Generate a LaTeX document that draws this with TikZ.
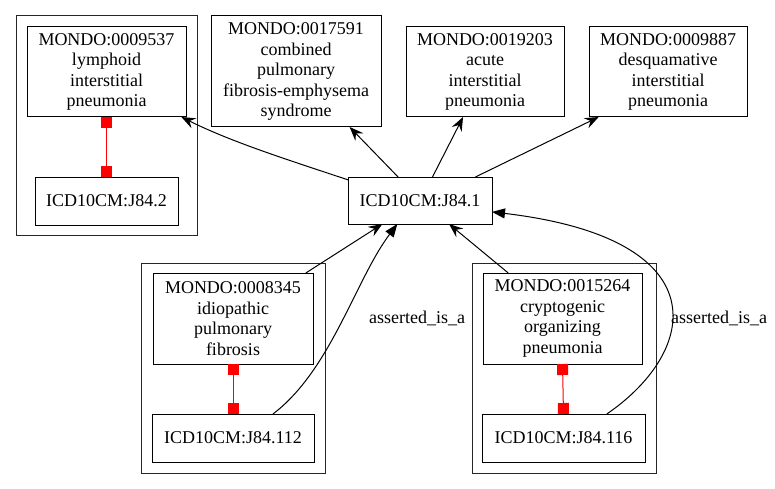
\documentclass[tikz,border=0pt]{standalone}
\usepackage{fontspec}
\setmainfont{Liberation Serif}
\usetikzlibrary{arrows.meta}
\begin{document}
\begin{tikzpicture}[x=1pt,y=-1pt,
  box/.style={draw=black, line width=1pt, inner sep=0pt, outer sep=0pt, align=center,
    font=\fontsize{18}{20.5}\selectfont, anchor=center},
  cluster/.style={draw=black!85, line width=1pt, inner sep=0pt, outer sep=0pt, anchor=center},
  lbl/.style={font=\fontsize{18}{20.5}\selectfont, inner sep=0pt, anchor=center},
  isa/.style={draw=black, line width=1pt, -{Stealth[length=14pt,width=11pt,inset=5pt]}},
  asserted/.style={draw=black, line width=1pt, -{Triangle[length=13pt,width=10pt]}},
  xref/.style={draw=red, line width=1pt, {Square[length=11pt,width=11pt]}-{Square[length=11pt,width=11pt]}}
]
\useasboundingbox[fill=white] (0,0) rectangle (775,489);

% clusters
\node[cluster, minimum width=181pt, minimum height=219pt] (c1) at (106.5,125.5) {};
\node[cluster, minimum width=184pt, minimum height=210pt] (c2) at (233,368) {};
\node[cluster, minimum width=184pt, minimum height=210pt] (c3) at (564,368) {};

% nodes
\node[box, minimum width=159pt, minimum height=90pt] (m9537) at (106.5,72) {MONDO:0009537\\lymphoid\\interstitial\\pneumonia};
\node[box, minimum width=143pt, minimum height=48pt] (j842) at (106.5,201) {ICD10CM:J84.2};
\node[box, minimum width=170pt, minimum height=111pt] (m17591) at (296,71.5) {MONDO:0017591\\combined\\pulmonary\\fibrosis-emphysema\\syndrome};
\node[box, minimum width=144pt, minimum height=47pt] (j841) at (420,200.5) {ICD10CM:J84.1};
\node[box, minimum width=158pt, minimum height=90pt] (m19203) at (485,72) {MONDO:0019203\\acute\\interstitial\\pneumonia};
\node[box, minimum width=158pt, minimum height=90pt] (m9887) at (668,72) {MONDO:0009887\\desquamative\\interstitial\\pneumonia};
\node[box, minimum width=160pt, minimum height=91pt] (m8345) at (233,318.5) {MONDO:0008345\\idiopathic\\pulmonary\\fibrosis};
\node[box, minimum width=162pt, minimum height=48pt] (j84112) at (233,438) {ICD10CM:J84.112};
\node[box, minimum width=159pt, minimum height=91pt] (m15264) at (562.5,318.5) {MONDO:0015264\\cryptogenic\\organizing\\pneumonia};
\node[box, minimum width=163pt, minimum height=48pt] (j84116) at (563.5,438) {ICD10CM:J84.116};

% labels
\node[lbl] (lab1) at (417,318) {asserted\_is\_a};
\node[lbl] (lab2) at (719,318) {asserted\_is\_a};

% is_a edges
\draw[isa] (j841.164.8) .. controls +(-60,-20) and +(50,25) .. (m9537.-31.5);
\draw[isa] (j841.133.1) -- (m17591.-46.3);
\draw[isa] (j841.62.9) -- (m19203.-116.4);
\draw[isa] (j841.23.1) -- (m9887.-147.7);
\draw[isa] (m8345.32.7) -- (j841.-148.1);
\draw[isa] (m15264.140.2) -- (j841.-39.7);

% asserted edges
\draw[asserted] (j84112.31.8) .. controls +(58,-44) and +(-42,56) .. (j841.-134.8);
\draw[asserted] (j84116.29.5) .. controls +(92,-63) and +(228,27) .. (j841.-9.7);

% xrefs
\draw[xref] (m9537.south) -- (j842.north);
\draw[xref] (m8345.south) -- (j84112.north);
\draw[xref] (m15264.south) -- (j84116.north);
\end{tikzpicture}
\end{document}
